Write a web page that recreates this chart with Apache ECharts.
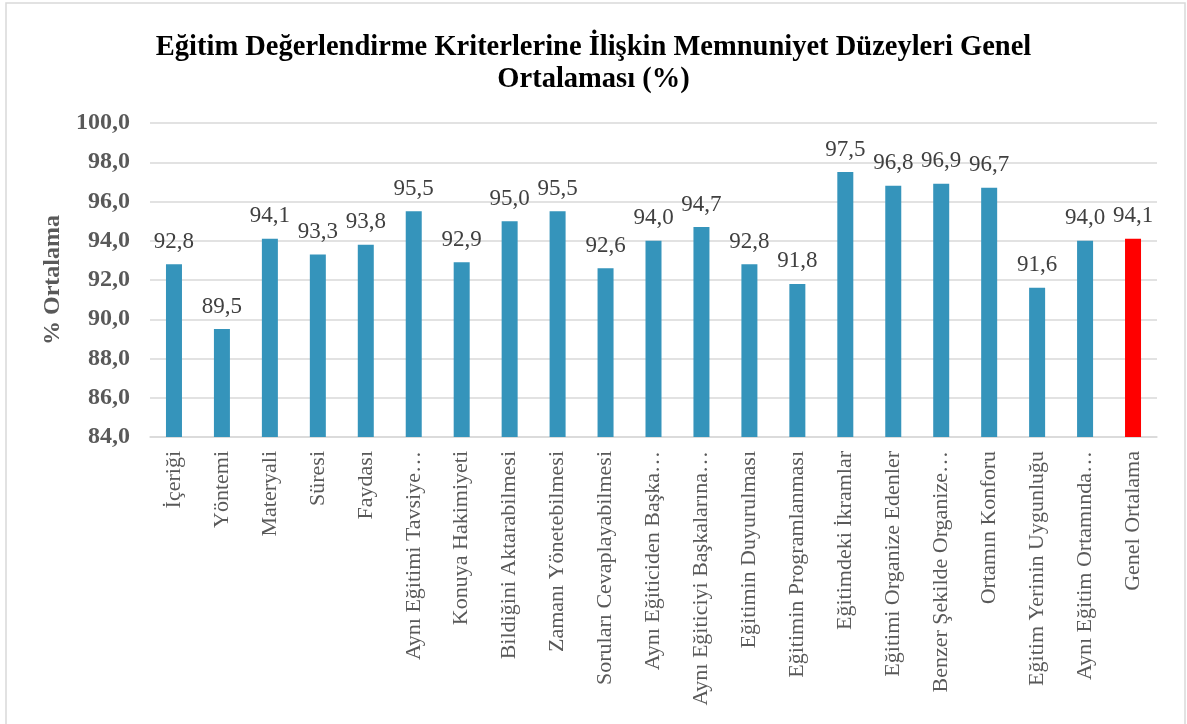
<!DOCTYPE html>
<html>
<head>
<meta charset="utf-8">
<script src="https://cdn.jsdelivr.net/npm/echarts@6/dist/echarts.min.js"></script>
<style>
html,body{margin:0;padding:0;background:#fff;}
#c{width:1187px;height:724px;}
</style>
</head>
<body>
<div id="c"></div>
<script>
const categories = [
  "İçeriği","Yöntemi","Materyali","Süresi","Faydası","Aynı Eğitimi Tavsiye…",
  "Konuya Hakimiyeti","Bildiğini Aktarabilmesi","Zamanı Yönetebilmesi",
  "Soruları Cevaplayabilmesi","Aynı Eğiticiden Başka…","Aynı Eğiticiyi Başkalarına…",
  "Eğitimin Duyurulması","Eğitimin Programlanması","Eğitimdeki İkramlar",
  "Eğitimi Organize Edenler","Benzer Şekilde Organize…","Ortamın Konforu",
  "Eğitim Yerinin Uygunluğu","Aynı Eğitim Ortamında…","Genel Ortalama"
];
const values = [92.8,89.5,94.1,93.3,93.8,95.5,92.9,95.0,95.5,92.6,94.0,94.7,92.8,91.8,97.5,96.8,96.9,96.7,91.6,94.0,94.1];
const highlightCategory = "Genel Ortalama";
const yTicks = {min:84, max:100, interval:2};

const serif = '"Liberation Serif","Times New Roman",serif';
const chart = echarts.init(document.getElementById('c'));
chart.setOption({
  animation:false,
  backgroundColor:'#fff',
  graphic:[{type:'rect',shape:{x:6,y:3,width:1179,height:740},style:{fill:'none',stroke:'#d9d9d9',lineWidth:1.5},silent:true}],
  title:{
    text:'Eğitim Değerlendirme Kriterlerine İlişkin Memnuniyet Düzeyleri Genel\nOrtalaması (%)',
    left:'center', top:27,
    textStyle:{fontFamily:serif,fontWeight:'bold',fontSize:28.5,color:'#000',lineHeight:32}
  },
  grid:{left:150,right:30,top:123,bottom:724-437,containLabel:false},
  xAxis:{
    type:'category', data:categories,
    axisLine:{lineStyle:{color:'#d9d9d9',width:1.5}},
    axisTick:{show:false},
    axisLabel:{rotate:90,interval:0,margin:14,fontFamily:serif,fontSize:22,color:'#595959'}
  },
  yAxis:{
    type:'value', min:yTicks.min, max:yTicks.max, interval:yTicks.interval,
    name:'% Ortalama', nameLocation:'middle', nameGap:85,
    nameTextStyle:{fontFamily:serif,fontWeight:'bold',fontSize:24,color:'#595959'},
    axisLine:{show:false}, axisTick:{show:false},
    axisLabel:{margin:20,fontFamily:serif,fontWeight:'bold',fontSize:24,color:'#595959',
      formatter:v=>v.toFixed(1).replace('.',',')},
    splitLine:{lineStyle:{color:'#d9d9d9',width:1.5}}
  },
  series:[{
    type:'bar', barWidth:16,
    data:values.map((v,i)=>({value:v,itemStyle:{color:categories[i]===highlightCategory?'#ff0000':'#3594bb'}})),
    label:{show:true,position:'top',distance:11,fontFamily:serif,fontSize:23,color:'#404040',
      formatter:p=>p.value.toFixed(1).replace('.',',')}
  }]
});
</script>
</body>
</html>
